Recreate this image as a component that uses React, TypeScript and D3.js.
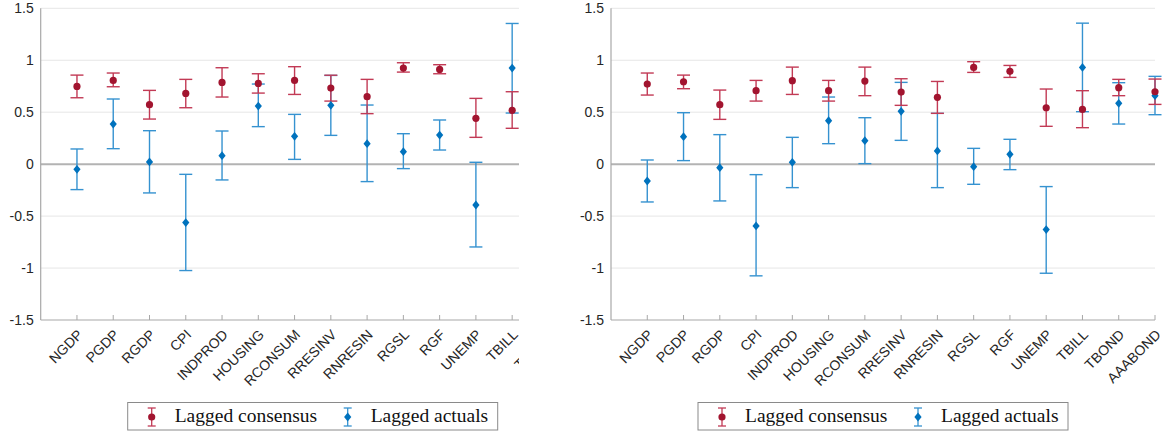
import React, { useEffect, useRef } from "react";
import * as d3 from "d3";

const categories = [
  "NGDP", "PGDP", "RGDP", "CPI", "INDPROD", "HOUSING", "RCONSUM", "RRESINV",
  "RNRESIN", "RGSL", "RGF", "UNEMP", "TBILL", "TBOND", "AAABOND",
];
const yTicks = [-1.5, -1, -0.5, 0, 0.5, 1, 1.5];
const legendLabels = ["Lagged consensus", "Lagged actuals"];

// left panel (picture is cropped after TBILL)
const leftConsensus = [0.748, 0.806, 0.572, 0.681, 0.787, 0.777, 0.806, 0.732, 0.649, 0.925, 0.912, 0.441, 0.518];
const leftConsensusLo = [0.639, 0.745, 0.434, 0.543, 0.646, 0.684, 0.671, 0.607, 0.486, 0.886, 0.87, 0.258, 0.345];
const leftConsensusHi = [0.857, 0.877, 0.71, 0.816, 0.928, 0.87, 0.938, 0.856, 0.816, 0.976, 0.957, 0.633, 0.697];
const leftActuals = [-0.05, 0.386, 0.021, -0.562, 0.082, 0.559, 0.268, 0.566, 0.197, 0.12, 0.28, -0.393, 0.925];
const leftActualsLo = [-0.245, 0.149, -0.277, -1.024, -0.152, 0.361, 0.046, 0.277, -0.168, -0.043, 0.136, -0.797, 0.492];
const leftActualsHi = [0.146, 0.627, 0.322, -0.098, 0.319, 0.771, 0.479, 0.854, 0.569, 0.293, 0.425, 0.018, 1.354];

// right panel
const rightConsensus = [0.771, 0.793, 0.572, 0.707, 0.803, 0.707, 0.8, 0.694, 0.643, 0.931, 0.893, 0.543, 0.527, 0.736, 0.697];
const rightConsensusLo = [0.665, 0.726, 0.431, 0.607, 0.671, 0.607, 0.659, 0.566, 0.489, 0.883, 0.835, 0.364, 0.351, 0.659, 0.575];
const rightConsensusHi = [0.877, 0.857, 0.713, 0.806, 0.934, 0.806, 0.934, 0.822, 0.796, 0.986, 0.95, 0.723, 0.707, 0.816, 0.819];
const rightActuals = [-0.162, 0.264, -0.034, -0.595, 0.018, 0.418, 0.226, 0.508, 0.127, -0.024, 0.095, -0.63, 0.931, 0.585, 0.659];
const rightActualsLo = [-0.364, 0.034, -0.354, -1.075, -0.226, 0.197, 0.005, 0.229, -0.226, -0.194, -0.053, -1.05, 0.505, 0.386, 0.476];
const rightActualsHi = [0.04, 0.495, 0.284, -0.101, 0.258, 0.646, 0.447, 0.787, 0.489, 0.152, 0.239, -0.216, 1.357, 0.784, 0.845];

const RED = "#A2142F";
const RED_BAR = "#C23A55";
const BLUE = "#0072BD";
const BLUE_BAR = "#3592D0";
const AXIS = "#a8a8a8";
const TEXT = "#262626";

interface Series {
  mid: number[];
  lo: number[];
  hi: number[];
}

function diamond(cx: number, cy: number, w = 3.6, h = 4.4) {
  return `M${cx},${cy - h}L${cx + w},${cy}L${cx},${cy + h}L${cx - w},${cy}Z`;
}

export default function App() {
  const ref = useRef<SVGSVGElement>(null);

  useEffect(() => {
    if (!ref.current) return;
    const svg = d3.select(ref.current);
    svg.selectAll("*").remove();

    const top = 8.3;
    const bottom = 320;
    const plotW = 544;
    const y = d3.scaleLinear().domain([-1.5, 1.5]).range([bottom, top]);

    svg
      .append("defs")
      .append("clipPath")
      .attr("id", "leftCrop")
      .append("rect")
      .attr("x", 0)
      .attr("y", 0)
      .attr("width", 519)
      .attr("height", 398);

    const drawPanel = (
      x0: number,
      consensus: Series,
      actuals: Series,
      clip: boolean
    ) => {
      const x = d3.scaleLinear().domain([0, 15]).range([x0, x0 + plotW]);
      const g = svg.append("g");
      if (clip) g.attr("clip-path", "url(#leftCrop)");

      // grid
      g.selectAll("line.grid")
        .data(yTicks.filter((t) => t !== -1.5 && t !== 0))
        .enter()
        .append("line")
        .attr("x1", x0)
        .attr("x2", x0 + plotW)
        .attr("y1", (d) => y(d))
        .attr("y2", (d) => y(d))
        .attr("stroke", "#e6e6e6")
        .attr("stroke-width", 1);

      // zero line
      g.append("line")
        .attr("x1", x0)
        .attr("x2", x0 + plotW)
        .attr("y1", y(0))
        .attr("y2", y(0))
        .attr("stroke", "#b3b3b3")
        .attr("stroke-width", 2);

      // axes
      g.append("line")
        .attr("x1", x0)
        .attr("x2", x0)
        .attr("y1", top)
        .attr("y2", bottom)
        .attr("stroke", AXIS)
        .attr("stroke-width", 1.2);
      g.append("line")
        .attr("x1", x0)
        .attr("x2", x0 + plotW)
        .attr("y1", bottom)
        .attr("y2", bottom)
        .attr("stroke", AXIS)
        .attr("stroke-width", 1.2);

      g.selectAll("text.ytick")
        .data(yTicks)
        .enter()
        .append("text")
        .attr("x", x0 - 7)
        .attr("y", (d) => y(d))
        .attr("text-anchor", "end")
        .attr("dominant-baseline", "central")
        .attr("font-family", "'Liberation Sans', Arial, sans-serif")
        .attr("font-size", 14)
        .attr("fill", TEXT)
        .text((d) => String(d));

      // x ticks and rotated labels
      g.selectAll("line.xtick")
        .data(categories)
        .enter()
        .append("line")
        .attr("x1", (_d, i) => x(i + 1))
        .attr("x2", (_d, i) => x(i + 1))
        .attr("y1", bottom)
        .attr("y2", bottom - 5)
        .attr("stroke", AXIS)
        .attr("stroke-width", 1);

      g.selectAll("text.xlab")
        .data(categories)
        .enter()
        .append("text")
        .attr("transform", (_d, i) => `translate(${x(i + 1) + 3},${bottom + 12}) rotate(-45)`)
        .attr("text-anchor", "end")
        .attr("dominant-baseline", "central")
        .attr("font-family", "'Liberation Sans', Arial, sans-serif")
        .attr("font-size", 14)
        .attr("fill", TEXT)
        .text((d) => d);

      const cap = 6.5;
      const drawBars = (s: Series, color: string) => {
        const bars = g.append("g").attr("stroke", color).attr("stroke-width", 1.4).attr("fill", "none");
        s.mid.forEach((_m, i) => {
          const cx = x(i + 1);
          bars.append("line").attr("x1", cx).attr("x2", cx).attr("y1", y(s.lo[i])).attr("y2", y(s.hi[i]));
          bars.append("line").attr("x1", cx - cap).attr("x2", cx + cap).attr("y1", y(s.lo[i])).attr("y2", y(s.lo[i]));
          bars.append("line").attr("x1", cx - cap).attr("x2", cx + cap).attr("y1", y(s.hi[i])).attr("y2", y(s.hi[i]));
        });
      };

      drawBars(actuals, BLUE_BAR);
      drawBars(consensus, RED_BAR);

      g.selectAll("path.act")
        .data(actuals.mid)
        .enter()
        .append("path")
        .attr("d", (d, i) => diamond(x(i + 1), y(d)))
        .attr("fill", BLUE);

      g.selectAll("circle.cons")
        .data(consensus.mid)
        .enter()
        .append("circle")
        .attr("cx", (_d, i) => x(i + 1))
        .attr("cy", (d) => y(d))
        .attr("r", 3.6)
        .attr("fill", RED);

      // legend
      const cx = x0 + plotW / 2;
      const lg = svg.append("g");
      lg.append("rect")
        .attr("x", cx - 185)
        .attr("y", 402.5)
        .attr("width", 370)
        .attr("height", 27.5)
        .attr("fill", "#fff")
        .attr("stroke", "#8a8a8a")
        .attr("stroke-width", 1);

      const items = [
        { label: legendLabels[0], bar: RED_BAR, color: RED, dx: -161, tx: -138, circle: true },
        { label: legendLabels[1], bar: BLUE_BAR, color: BLUE, dx: 35, tx: 58, circle: false },
      ];
      items.forEach((it) => {
        const ix = cx + it.dx;
        const ic = lg.append("g").attr("stroke", it.bar).attr("stroke-width", 1.3);
        ic.append("line").attr("x1", ix).attr("x2", ix).attr("y1", 408).attr("y2", 426);
        ic.append("line").attr("x1", ix - 4).attr("x2", ix + 4).attr("y1", 408).attr("y2", 408);
        ic.append("line").attr("x1", ix - 4).attr("x2", ix + 4).attr("y1", 426).attr("y2", 426);
        if (it.circle) {
          lg.append("circle").attr("cx", ix).attr("cy", 417).attr("r", 3.6).attr("fill", it.color);
        } else {
          lg.append("path").attr("d", diamond(ix, 417)).attr("fill", it.color);
        }
        lg.append("text")
          .attr("x", cx + it.tx)
          .attr("y", 422)
          .attr("font-family", "'Liberation Serif', 'Times New Roman', serif")
          .attr("font-size", 19.5)
          .attr("fill", "#111")
          .text(it.label);
      });
    };

    drawPanel(
      40.7,
      { mid: leftConsensus, lo: leftConsensusLo, hi: leftConsensusHi },
      { mid: leftActuals, lo: leftActualsLo, hi: leftActualsHi },
      true
    );
    drawPanel(
      611,
      { mid: rightConsensus, lo: rightConsensusLo, hi: rightConsensusHi },
      { mid: rightActuals, lo: rightActualsLo, hi: rightActualsHi },
      false
    );
  }, []);

  return (
    <svg
      ref={ref}
      width={1167}
      height={435}
      style={{ position: "absolute", left: 0, top: 0, background: "#fff" }}
    />
  );
}
